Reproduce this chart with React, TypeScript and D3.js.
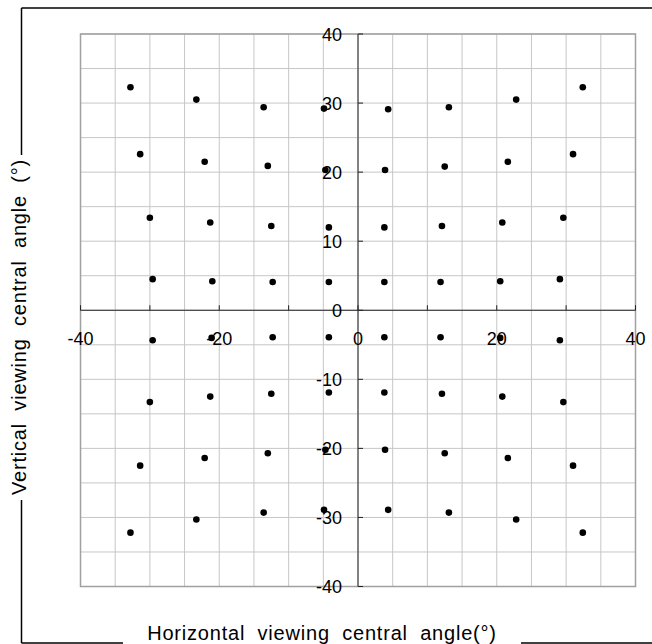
import React from 'react';
import * as d3 from 'd3';

// measured viewing angles, per quadrant, rows from the x axis outwards / top down
const upperLeftX = [-32.8, -23.3, -13.6, -4.9, -31.4, -22.1, -13.0, -4.7, -30.0, -21.3, -12.5, -4.2, -29.6, -21.0, -12.3, -4.2];
const upperLeftY = [32.3, 30.5, 29.4, 29.2, 22.6, 21.5, 20.9, 20.3, 13.4, 12.7, 12.2, 12.0, 4.5, 4.2, 4.1, 4.1];
const upperRightX = [4.35, 13.1, 22.8, 32.4, 3.9, 12.5, 21.6, 31.0, 3.8, 12.1, 20.8, 29.6, 3.8, 11.9, 20.5, 29.1];
const upperRightY = [29.1, 29.4, 30.5, 32.3, 20.3, 20.8, 21.5, 22.6, 12.0, 12.2, 12.7, 13.4, 4.1, 4.1, 4.2, 4.5];
const lowerLeftX = [-29.6, -21.1, -12.3, -4.2, -30.0, -21.3, -12.5, -4.2, -31.4, -22.1, -13.0, -4.7, -32.8, -23.3, -13.6, -4.9];
const lowerLeftY = [-4.35, -4.0, -3.9, -3.9, -13.3, -12.5, -12.1, -11.9, -22.5, -21.4, -20.7, -20.2, -32.2, -30.3, -29.3, -28.9];
const lowerRightX = [3.8, 11.9, 20.5, 29.1, 3.8, 12.1, 20.8, 29.6, 3.9, 12.5, 21.6, 31.0, 4.35, 13.1, 22.8, 32.4];
const lowerRightY = [-3.9, -3.9, -4.0, -4.35, -11.9, -12.1, -12.5, -13.3, -20.2, -20.7, -21.4, -22.5, -28.9, -29.3, -30.3, -32.2];

const xTickLabels = [-40, -20, 0, 20, 40];
const yTickLabels = [40, 30, 20, 10, 0, -10, -20, -30, -40];
const gridSteps = d3.range(-40, 41, 5);
const majorTicks = d3.range(-40, 41, 10);

const xTitle = 'Horizontal viewing central angle(°)';
const yTitle = 'Vertical viewing central angle (°)';

const font = '"Liberation Sans", Arial, sans-serif';

export default function App() {
  const W = 652, H = 644;
  const x = d3.scaleLinear().domain([-40, 40]).range([80.5, 635.5]);
  const y = d3.scaleLinear().domain([-40, 40]).range([586.5, 34]);

  const points = [
    ...upperLeftX.map((v, i) => [v, upperLeftY[i]]),
    ...upperRightX.map((v, i) => [v, upperRightY[i]]),
    ...lowerLeftX.map((v, i) => [v, lowerLeftY[i]]),
    ...lowerRightX.map((v, i) => [v, lowerRightY[i]]),
  ];

  const x0 = x(0), y0 = y(0);

  return (
    <svg width={W} height={H} style={{position: 'absolute', left: 0, top: 0, background: '#fff'}}>
      {/* outer frame, broken by the titles */}
      <g stroke="#000" strokeWidth={1.5} fill="none">
        <line x1={21.5} y1={8} x2={W} y2={8} />
        <line x1={21.5} y1={8} x2={21.5} y2={155} />
        <line x1={21.5} y1={500} x2={21.5} y2={643} />
        <line x1={21.5} y1={643} x2={123} y2={643} />
        <line x1={521} y1={643} x2={W} y2={643} />
      </g>

      {/* grid */}
      <g stroke="#c6c6c6" strokeWidth={1}>
        {gridSteps.map(v => (
          <line key={'gx' + v} x1={x(v)} x2={x(v)} y1={y(40)} y2={y(-40)} />
        ))}
        {gridSteps.map(v => (
          <line key={'gy' + v} x1={x(-40)} x2={x(40)} y1={y(v)} y2={y(v)} />
        ))}
      </g>
      <rect x={x(-40)} y={y(40)} width={x(40) - x(-40)} height={y(-40) - y(40)}
        fill="none" stroke="#a0a0a0" strokeWidth={1.5} />

      {/* axes through the origin */}
      <g stroke="#222" strokeWidth={1}>
        <line x1={x(-40)} x2={x(40)} y1={y0} y2={y0} />
        <line x1={x0} x2={x0} y1={y(40)} y2={y(-40)} />
        {majorTicks.map(v => (
          <line key={'tx' + v} x1={x(v)} x2={x(v)} y1={y0} y2={y0 - 5} />
        ))}
        {majorTicks.map(v => (
          <line key={'ty' + v} x1={x0} x2={x0 + 5} y1={y(v)} y2={y(v)} />
        ))}
      </g>

      {/* points */}
      <g fill="#000">
        {points.map((p, i) => (
          <circle key={i} cx={x(p[0])} cy={y(p[1])} r={3.3} />
        ))}
      </g>

      {/* tick labels */}
      <g fontFamily={font} fontSize={18} fill="#000">
        {xTickLabels.map(v => (
          <text key={'lx' + v} x={x(v)} y={y0 + 35} textAnchor="middle">{v}</text>
        ))}
        {yTickLabels.map(v => (
          <text key={'ly' + v} x={x0 - 16} y={y(v) + 6.5} textAnchor="end">{v}</text>
        ))}
      </g>

      {/* titles */}
      <text x={322} y={640} textAnchor="middle" fontFamily={font} fontSize={20}
        wordSpacing={6} letterSpacing={0.8}>{xTitle}</text>
      <text transform={`translate(26,327) rotate(-90)`} textAnchor="middle" fontFamily={font} fontSize={20}
        wordSpacing={6} letterSpacing={0.8}>{yTitle}</text>
    </svg>
  );
}
